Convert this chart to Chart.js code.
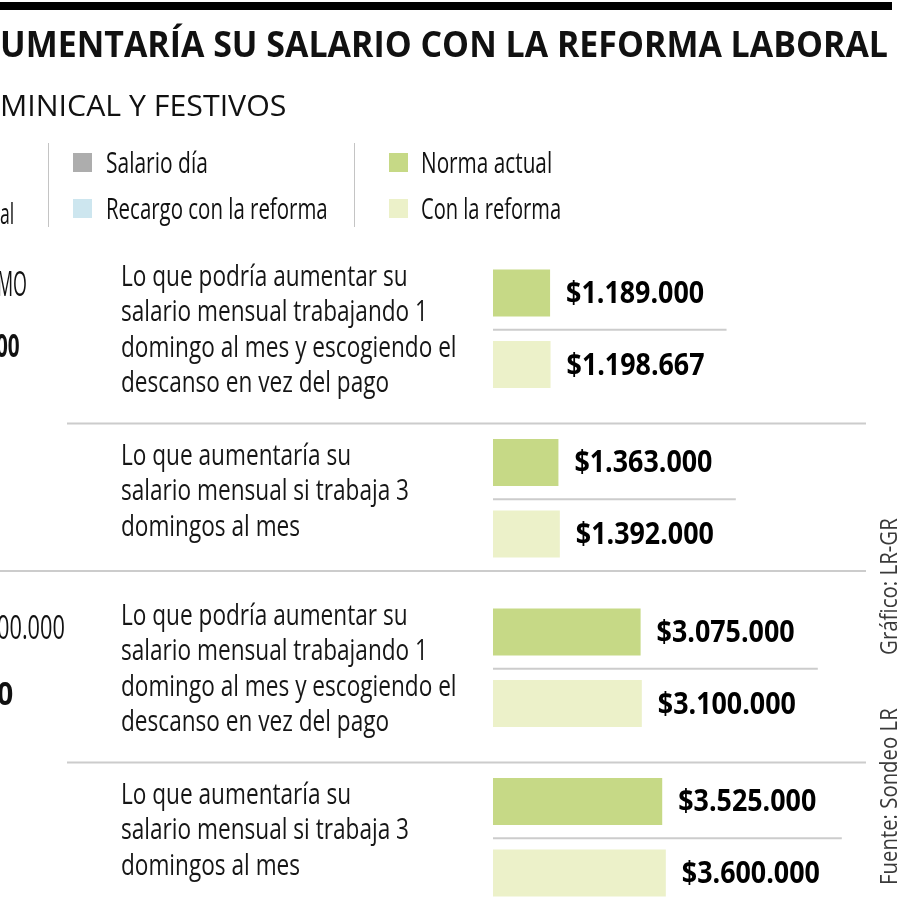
<!DOCTYPE html>
<html lang="es">
<head>
<meta charset="utf-8">
<title>Cuánto aumentaría su salario con la reforma laboral</title>
<script src="https://cdn.jsdelivr.net/npm/chart.js@4.4.1/dist/chart.umd.min.js"></script>
<style>
  html, body { margin: 0; padding: 0; width: 900px; height: 900px; overflow: hidden; background: #fff; }
  body { position: relative; font-family: 'Open Sans', sans-serif; color: #111; }
  .t { position: absolute; white-space: nowrap; line-height: 1; transform-origin: 0 0; }
  .box { position: absolute; width: 19px; height: 19px; }
  .vline { position: absolute; width: 1px; background: #c4c4c4; }
  #chart { position: absolute; left: 0; top: 0; }
</style>
</head>
<body>
<canvas id="chart" width="900" height="960"></canvas>

<div style="position:absolute;left:0;top:2px;width:892px;height:8px;background:#000"></div>

<div class="t" data-w="888" style="left:0;top:26px;font-size:36px;font-weight:700">UMENTARÍA SU SALARIO CON LA REFORMA LABORAL</div>
<div class="t" data-w="286" style="left:0;top:90px;font-size:30px">MINICAL Y FESTIVOS</div>

<!-- leyenda -->
<div class="t" data-w="14" style="left:0;top:198px;font-size:29px">al</div>
<div class="vline" style="left:48px;top:143px;height:84px"></div>
<div class="vline" style="left:354px;top:143px;height:84px"></div>
<div class="box" id="box-salario" style="left:73px;top:153px"></div>
<div class="box" id="box-recargo" style="left:73px;top:199px"></div>
<div class="box" id="box-norma" style="left:389px;top:153px"></div>
<div class="box" id="box-reforma" style="left:389px;top:199px"></div>
<div class="t" data-w="102" style="left:106px;top:147px;font-size:29px">Salario día</div>
<div class="t" data-w="222" style="left:106px;top:193px;font-size:29px">Recargo con la reforma</div>
<div class="t" data-w="131" style="left:421px;top:147px;font-size:29px">Norma actual</div>
<div class="t" data-w="140" style="left:421px;top:193px;font-size:29px">Con la reforma</div>

<!-- columna izquierda (recortada) -->
<div class="t" data-w="30" style="left:-3px;top:266px;font-size:34px">MO</div>
<div class="t" data-w="24" style="left:-4px;top:329px;font-size:32px;font-weight:700">00</div>
<div class="t" data-w="68" style="left:-3px;top:611px;font-size:32px">00.000</div>
<div class="t" data-w="16" style="left:-3px;top:677px;font-size:32px;font-weight:700">0</div>

<!-- créditos -->
<div class="t" data-w="137" data-rot="1" style="left:877px;top:655px;font-size:23px;color:#3a3a3a">Gráfico: LR-GR</div>
<div class="t" data-w="177" data-rot="1" style="left:877px;top:885px;font-size:23px;color:#3a3a3a">Fuente: Sondeo LR</div>

<script>
// Datos
const descripciones = [
    ['Lo que podría aumentar su', 'salario mensual trabajando 1', 'domingo al mes y escogiendo el', 'descanso en vez del pago'],
    ['Lo que aumentaría su', 'salario mensual si trabaja 3', 'domingos al mes'],
    ['Lo que podría aumentar su', 'salario mensual trabajando 1', 'domingo al mes y escogiendo el', 'descanso en vez del pago'],
    ['Lo que aumentaría su', 'salario mensual si trabaja 3', 'domingos al mes']
];
const seccion = [1, 1, 2, 2];
const normaActual = [1189000, 1363000, 3075000, 3525000];
const conReforma = [1198667, 1392000, 3100000, 3600000];
const seriesNombres = ['Norma actual', 'Con la reforma'];

// Colores
const VERDE = '#c6d986';
const VERDE_CLARO = '#ecf1c9';
const GRIS = '#adadad';
const CELESTE = '#cde6ef';
const LINEA = '#cccccc';

document.getElementById('box-salario').style.background = GRIS;
document.getElementById('box-recargo').style.background = CELESTE;
document.getElementById('box-norma').style.background = VERDE;
document.getElementById('box-reforma').style.background = VERDE_CLARO;

// Ajusta los textos HTML al ancho condensado del original
document.querySelectorAll('.t').forEach(el => {
    const s = parseFloat(el.dataset.w) / el.offsetWidth;
    el.style.transform = el.dataset.rot ? `rotate(-90deg) scaleX(${s})` : `scaleX(${s})`;
});

function formatoPesos(n) {
    return '$' + String(n).replace(/\B(?=(\d{3})+(?!\d))/g, '.');
}

function textoCondensado(ctx, texto, x, y, sx) {
    ctx.save();
    ctx.translate(x, y);
    ctx.scale(sx, 1);
    ctx.fillText(texto, 0, 0);
    ctx.restore();
}

// Textos, cifras y separadores de cada fila
const filasPlugin = {
    id: 'filas',
    afterDatasetsDraw(chart) {
        const { ctx, chartArea, scales: { y } } = chart;
        const centros = descripciones.map((_, i) => y.getPixelForValue(i));

        ctx.save();
        ctx.fillStyle = '#161616';
        ctx.textBaseline = 'alphabetic';

        // descripciones
        ctx.font = '30px "Open Sans", sans-serif';
        const sxDesc = 307 / ctx.measureText('salario mensual trabajando 1').width;
        descripciones.forEach((lineas, i) => {
            const n = lineas.length;
            // los bloques de 3 líneas van algo más arriba en el original
            const ajuste = (4 - n) * -8;
            lineas.forEach((l, k) => {
                const base = centros[i] + (k - (n - 1) / 2) * 35.5 + 10 + ajuste;
                textoCondensado(ctx, l, 121, base, sxDesc);
            });
        });

        // cifras
        ctx.font = 'bold 30px "Open Sans", sans-serif';
        ctx.fillStyle = '#000';
        const sxCifra = 138 / ctx.measureText('$1.189.000').width;
        const finFila = centros.map(() => 0);
        chart.data.datasets.forEach((ds, di) => {
            chart.getDatasetMeta(di).data.forEach((bar, i) => {
                const txt = formatoPesos(ds.data[i]);
                const x = bar.x + 16;
                textoCondensado(ctx, txt, x, bar.y + 10, sxCifra);
                finFila[i] = Math.max(finFila[i], x + ctx.measureText(txt).width * sxCifra);
            });
        });

        // separadores
        ctx.strokeStyle = LINEA;
        ctx.lineWidth = 2;
        centros.forEach((c, i) => {
            ctx.beginPath();
            ctx.moveTo(chartArea.left, c + 1);
            ctx.lineTo(finFila[i] + 22, c + 1);
            ctx.stroke();
            if (i < centros.length - 1) {
                const medio = (c + centros[i + 1]) / 2;
                const mismaSeccion = seccion[i] === seccion[i + 1];
                const yl = mismaSeccion ? medio + 10 : medio - 12;
                ctx.beginPath();
                ctx.moveTo(mismaSeccion ? 67 : 0, yl);
                ctx.lineTo(chartArea.right, yl);
                ctx.stroke();
            }
        });
        ctx.restore();
    }
};

new Chart(document.getElementById('chart'), {
    type: 'bar',
    data: {
        labels: descripciones.map(d => d.join(' ')),
        datasets: [
            { label: seriesNombres[0], data: normaActual, backgroundColor: VERDE },
            { label: seriesNombres[1], data: conReforma, backgroundColor: VERDE_CLARO }
        ]
    },
    options: {
        indexAxis: 'y',
        responsive: false,
        animation: false,
        events: [],
        categoryPercentage: 0.844,
        barPercentage: 0.657,
        layout: { padding: { left: 493, right: 34, top: 244, bottom: 38 } },
        scales: {
            x: { display: false, min: 0, max: 7770000 },
            y: { display: false }
        },
        plugins: {
            legend: { display: false },
            tooltip: { enabled: false }
        }
    },
    plugins: [filasPlugin]
});
</script>
</body>
</html>
